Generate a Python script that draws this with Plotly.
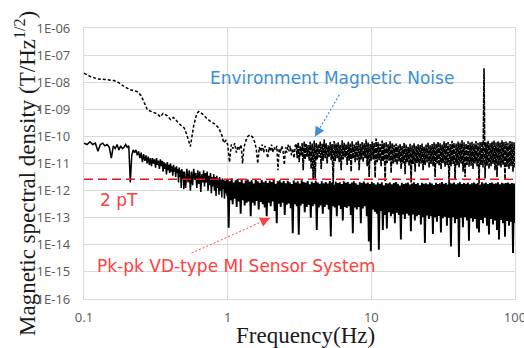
import numpy as np
import plotly.graph_objects as go

# ---------------- axis ticks ----------------
x_tick_vals = [0.1, 1, 10, 100]
x_tick_text = ["0.1", "1", "10", "100"]
y_tick_vals = [1e-16, 1e-15, 1e-14, 1e-13, 1e-12, 1e-11, 1e-10, 1e-9, 1e-8, 1e-7, 1e-6]
y_tick_text = ["1E-16", "1E-15", "1E-14", "1E-13", "1E-12", "1E-11",
               "1E-10", "1E-09", "1E-08", "1E-07", "1E-06"]

# reference level line ("2 pT")
ref_level = 2.6e-12

# ---------------- Environment magnetic noise (log10 of T/Hz^0.5) ----------------
env_low_freq = [0.100, 0.110, 0.124, 0.140, 0.162, 0.175, 0.190, 0.210, 0.235, 0.250,
                0.265, 0.276, 0.300, 0.324, 0.340, 0.355, 0.380, 0.400, 0.420, 0.445,
                0.470, 0.500, 0.520, 0.550, 0.580, 0.610, 0.630, 0.670, 0.720, 0.760,
                0.820, 0.870, 0.910, 0.940, 0.970, 1.000, 1.030, 1.060, 1.090, 1.120,
                1.150, 1.180, 1.210, 1.240, 1.270, 1.300, 1.340, 1.380, 1.420, 1.460,
                1.500, 1.540, 1.580, 1.620, 1.660, 1.700, 1.740, 1.780, 1.820, 1.860,
                1.900, 1.940, 1.980, 2.020, 2.060, 2.100, 2.150, 2.200, 2.240, 2.280,
                2.330, 2.380, 2.430, 2.480, 2.530, 2.580, 2.630, 2.680, 2.730, 2.780,
                2.840, 2.900, 2.950]
env_low_log10 = [-7.67, -7.78, -7.88, -7.90, -7.94, -8.02, -8.16, -8.28, -8.35, -8.50,
                 -8.80, -9.02, -9.10, -9.17, -9.28, -9.15, -9.24, -9.38, -9.30, -9.45,
                 -9.58, -9.70, -9.95, -10.37, -9.60, -9.15, -9.08, -9.18, -9.35, -9.45,
                 -9.55, -9.70, -9.95, -10.24, -10.15, -10.30, -10.95, -10.30, -10.45, -10.25,
                 -10.60, -10.35, -10.50, -10.30, -11.00, -10.40, -10.15, -10.00, -9.95, -9.97,
                 -10.05, -10.20, -10.45, -11.00, -10.40, -10.55, -10.30, -10.60, -10.35, -10.50,
                 -10.80, -10.40, -10.55, -10.30, -10.60, -10.40, -10.50, -10.35, -11.25, -10.45,
                 -10.60, -10.35, -10.55, -11.05, -10.40, -10.60, -10.30, -10.55, -10.35, -10.70,
                 -10.45, -10.80, -10.35]
# dense part 3-100 Hz: upper / lower excursions per column
env_hi_log10 = [-10.30, -10.22, -10.35, -10.25, -10.18, -10.28, -10.32, -10.20, -10.26, -10.15,
                -10.24, -10.30, -10.19, -10.27, -10.12, -10.25, -10.33, -10.21, -10.28, -10.17,
                -10.26, -10.22, -10.31, -10.14, -10.24, -10.29, -10.20, -10.26, -10.18, -10.30,
                -10.22, -10.16, -10.27, -10.21, -10.25, -10.12, -10.23, -10.28, -10.19, -10.24,
                -10.08, -10.22, -10.27, -10.15, -10.24, -10.20, -10.29, -10.18, -10.25, -10.31,
                -10.26, -10.34, -10.28, -10.36, -10.24, -10.30, -10.38, -10.27, -10.33, -10.25,
                -10.35, -10.29, -10.32, -10.26, -10.37, -10.30, -10.24, -10.33, -10.28, -10.22,
                -10.27, -10.20, -10.25, -10.30, -10.18, -10.24, -10.21, -10.28, -10.16, -10.23,
                -10.26, -10.19, -10.24, -10.14, -10.22, -10.27, -10.18, -10.23, -10.20, -10.26,
                -10.17, -10.24, -10.21, -10.19, -7.49, -10.22, -10.16, -10.25, -10.20, -10.15,
                -10.23, -10.18, -10.22, -10.14, -10.21, -10.19, -10.24, -10.17, -10.20, -10.22]
env_lo_log10 = [-10.80, -10.95, -10.70, -11.25, -10.85, -10.75, -10.90, -11.20, -11.60, -11.55,
                -10.85, -10.78, -11.20, -10.90, -10.80, -11.00, -10.75, -10.88, -11.78, -10.92,
                -10.80, -10.95, -11.25, -10.85, -10.78, -11.05, -10.90, -11.30, -10.82, -10.95,
                -10.88, -11.25, -10.85, -10.95, -10.80, -11.10, -11.50, -10.90, -10.85, -11.53,
                -10.95, -10.88, -11.10, -10.92, -11.65, -10.98, -10.90, -11.35, -11.00, -10.95,
                -11.05, -10.92, -11.20, -11.00, -11.40, -10.95, -11.08, -11.70, -11.02, -11.30,
                -10.98, -11.12, -11.00, -11.25, -11.05, -10.96, -11.15, -11.02, -11.10, -11.50,
                -11.00, -11.08, -11.20, -10.98, -11.12, -11.05, -11.80, -11.10, -11.02, -11.60,
                -11.06, -11.15, -11.00, -11.30, -11.50, -11.05, -11.12, -11.08, -11.20, -11.00,
                -11.10, -11.75, -11.05, -11.15, -11.55, -11.08, -11.20, -11.10, -11.02, -11.25,
                -11.50, -11.08, -11.15, -11.05, -11.60, -11.12, -11.20, -11.10, -11.30, -11.15]

# ---------------- Pk-pk VD-type MI sensor system (log10 of T/Hz^0.5) ----------------
# 0.100 .. 0.495 Hz, step 0.005 Hz
sensor_a_log10 = [-10.25, -10.30, -10.20, -10.30, -10.25, -10.55, -10.30, -10.25, -10.35, -10.30,
                  -10.40, -10.80, -10.35, -10.45, -10.30, -10.50, -10.35, -10.45, -10.40, -10.30,
                  -10.40, -10.35, -11.70, -10.70, -10.50, -10.60, -10.50, -10.70, -10.55, -10.80,
                  -10.60, -10.95, -10.65, -10.90, -10.70, -11.00, -10.75, -11.05, -10.80, -11.10,
                  -10.80, -11.00, -10.85, -11.15, -10.80, -11.05, -10.90, -11.20, -10.85, -11.10,
                  -10.90, -11.30, -10.95, -11.20, -11.00, -11.40, -10.95, -11.25, -11.05, -11.35,
                  -11.00, -11.30, -11.10, -11.45, -11.05, -11.30, -11.15, -11.50, -11.10, -11.35,
                  -11.20, -11.70, -11.15, -11.50, -11.25, -11.90, -11.20, -11.60, -11.30, -11.95]
# 0.50 .. 0.99 Hz, step 0.01 Hz
sensor_b_log10 = [-11.30, -11.90, -11.20, -11.70, -11.25, -12.00, -11.30, -11.80, -11.20, -11.60,
                  -11.35, -11.90, -11.25, -11.75, -11.30, -12.05, -11.40, -11.70, -11.25, -11.85,
                  -11.35, -11.70, -11.30, -12.00, -11.45, -11.80, -11.35, -12.10, -11.50, -11.85,
                  -11.40, -12.00, -11.50, -12.20, -11.45, -11.90, -11.55, -12.15, -11.50, -12.00,
                  -11.60, -12.25, -11.55, -11.95, -11.60, -12.30, -11.65, -12.10, -11.60, -12.20]
# dense part 1-100 Hz: upper / lower excursions per column
sensor_hi_log10 = [-11.58, -11.66, -11.55, -11.70, -11.62, -11.57, -11.68, -11.60, -11.73, -11.63,
                   -11.59, -11.67, -11.62, -11.74, -11.60, -11.66, -11.71, -11.61, -11.69, -11.64,
                   -11.72, -11.63, -11.68, -11.60, -11.75, -11.66, -11.62, -11.70, -11.65, -11.73,
                   -11.64, -11.69, -11.76, -11.63, -11.70, -11.66, -11.74, -11.62, -11.68, -11.71,
                   -11.65, -11.77, -11.67, -11.72, -11.64, -11.70, -11.75, -11.66, -11.73, -11.68,
                   -11.74, -11.65, -11.70, -11.78, -11.67, -11.72, -11.69, -11.76, -11.66, -11.71,
                   -11.68, -11.75, -11.70, -11.66, -11.73, -11.79, -11.69, -11.72, -11.67, -11.74,
                   -11.70, -11.76, -11.68, -11.73, -11.78, -11.70, -11.75, -11.69, -11.80, -11.72,
                   -11.74, -11.70, -11.77, -11.72, -11.68, -11.75, -11.81, -11.71, -11.76, -11.73,
                   -11.70, -11.78, -11.74, -11.69, -11.76, -11.72, -11.80, -11.71, -11.75, -11.73,
                   -11.77, -11.70, -11.74, -11.79, -11.71, -11.76, -11.73, -11.68, -11.75, -11.72,
                   -11.78, -11.71, -11.74, -11.70, -11.77, -11.73, -11.69, -11.76, -11.72, -11.75,
                   -11.71, -11.77, -11.73, -11.70, -11.75, -11.72, -11.78, -11.69, -11.74, -11.71,
                   -11.76, -11.72, -11.70, -11.75, -11.73, -11.69, -11.77, -11.71, -11.74, -11.72,
                   -11.70, -11.75, -11.72, -11.74]
sensor_lo_log10 = [-13.37, -12.35, -12.50, -12.30, -12.60, -12.40, -12.85, -12.35, -12.55, -12.45,
                   -12.40, -12.95, -12.45, -12.55, -12.38, -12.70, -12.42, -12.50, -12.62, -12.95,
                   -12.45, -12.58, -12.40, -12.75, -13.20, -12.48, -12.60, -12.45, -12.90, -12.52,
                   -12.47, -12.65, -13.57, -12.50, -12.58, -13.63, -12.55, -12.48, -12.80, -12.60,
                   -12.52, -13.00, -12.58, -12.50, -13.45, -12.62, -12.55, -12.85, -12.60, -12.52,
                   -12.70, -13.69, -12.58, -12.62, -12.95, -12.55, -12.68, -13.10, -12.60, -12.64,
                   -12.58, -12.90, -13.57, -12.62, -12.70, -12.60, -13.20, -12.66, -12.58, -12.95,
                   -13.88, -14.24, -12.70, -12.78, -12.85, -14.18, -12.75, -13.45, -12.90, -13.40,
                   -12.80, -12.95, -12.85, -13.20, -12.82, -12.90, -13.80, -12.88, -13.05, -12.85,
                   -12.92, -13.50, -12.88, -13.10, -12.95, -12.90, -13.25, -12.98, -13.93, -12.92,
                   -13.05, -12.95, -13.60, -12.98, -13.15, -12.94, -13.55, -13.02, -12.96, -13.30,
                   -13.00, -14.06, -12.98, -13.20, -13.05, -14.45, -13.00, -13.35, -12.98, -13.10,
                   -13.85, -13.02, -13.15, -13.05, -13.40, -13.55, -13.08, -13.20, -13.00, -13.30,
                   -13.62, -13.05, -13.25, -13.10, -13.45, -13.80, -13.08, -13.20, -13.70, -13.12,
                   -13.30, -13.15, -14.30, -13.20]


def interleave(hi, lo):
    out = []
    for a, b in zip(hi, lo):
        out.extend([a, b])
    return out


# frequency grids
env_dense_freq = np.geomspace(3.0, 100.0, 2 * len(env_hi_log10))
env_low_y = 10.0 ** np.array(env_low_log10)
env_dense_y = 10.0 ** np.array(interleave(env_hi_log10, env_lo_log10))

sensor_a_freq = np.arange(100, 500, 5) / 1000.0
sensor_b_freq = np.arange(50, 100, 1) / 100.0
sensor_dense_freq = np.geomspace(1.0, 100.0, 2 * len(sensor_hi_log10))
sensor_low_x = list(sensor_a_freq) + list(sensor_b_freq)
sensor_low_y = 10.0 ** np.array(sensor_a_log10 + sensor_b_log10)
sensor_dense_y = 10.0 ** np.array(interleave(sensor_hi_log10, sensor_lo_log10))

BLUE = "#3b8fd4"
RED_TXT = "#ff4040"
RED_LINE = "#e8151b"
GRID = "#d9d9d9"

fig = go.Figure()
# environment noise: low-frequency part (dashed) + dense part
fig.add_trace(go.Scatter(x=list(env_low_freq) + [env_dense_freq[0]],
                         y=list(env_low_y) + [env_dense_y[0]], mode="lines",
                         line=dict(color="#000000", width=1.5, dash="3px,2px", simplify=False),
                         hoverinfo="skip", showlegend=False))
fig.add_trace(go.Scatter(x=env_dense_freq, y=env_dense_y, mode="lines",
                         line=dict(color="#000000", width=1.6, dash="5px,1px", simplify=False),
                         hoverinfo="skip", showlegend=False))
# sensor: low-frequency part + dense part
fig.add_trace(go.Scatter(x=sensor_low_x + [sensor_dense_freq[0]],
                         y=list(sensor_low_y) + [sensor_dense_y[0]], mode="lines",
                         line=dict(color="#000000", width=1.5, simplify=False),
                         hoverinfo="skip", showlegend=False))
fig.add_trace(go.Scatter(x=sensor_dense_freq, y=sensor_dense_y, mode="lines",
                         line=dict(color="#000000", width=1.9, simplify=False),
                         hoverinfo="skip", showlegend=False))
fig.add_trace(go.Scatter(x=[0.1, 100], y=[ref_level, ref_level], mode="lines",
                         line=dict(color=RED_LINE, width=1.5, dash="9px,5px"),
                         hoverinfo="skip", showlegend=False))

# dotted arrow shafts (data coordinates)
blue_tail, blue_head = (5.98, 3.4e-9), (4.05, 9.8e-11)
red_tail, red_head = (0.5616, 4.95e-15), (1.97, 9.7e-14)
fig.add_trace(go.Scatter(x=[blue_tail[0], blue_head[0]], y=[blue_tail[1], blue_head[1]],
                         mode="lines", line=dict(color=BLUE, width=1.2, dash="2px,2px"),
                         hoverinfo="skip", showlegend=False))
fig.add_trace(go.Scatter(x=[red_tail[0], red_head[0]], y=[red_tail[1], red_head[1]],
                         mode="lines", line=dict(color=RED_TXT, width=1.0, dash="2px,2px"),
                         hoverinfo="skip", showlegend=False))

ann_font = dict(family="DejaVu Sans", size=17)
annotations = [
    dict(x=np.log10(blue_head[0]), y=np.log10(blue_head[1]), xref="x", yref="y",
         ax=3.5, ay=-6.0, showarrow=True, arrowhead=2, arrowsize=1.3, arrowwidth=1.5,
         arrowcolor=BLUE, text="", standoff=0),
    dict(x=np.log10(red_head[0]), y=np.log10(red_head[1]), xref="x", yref="y",
         ax=-6.4, ay=2.9, showarrow=True, arrowhead=2, arrowsize=1.3, arrowwidth=1.5,
         arrowcolor=RED_TXT, text="", standoff=0),
    dict(x=0.728, y=-7.843, xref="x", yref="y", text="Environment Magnetic Noise",
         showarrow=False, font=dict(color=BLUE, **ann_font), xanchor="center", yanchor="middle"),
    dict(x=-0.9026, y=-12.34, xref="x", yref="y", text="2 pT",
         showarrow=False, font=dict(color=RED_TXT, **ann_font), xanchor="left", yanchor="middle"),
    dict(x=-0.9235, y=-14.77, xref="x", yref="y", text="Pk-pk VD-type MI Sensor System",
         showarrow=False, font=dict(color=RED_TXT, **ann_font), xanchor="left", yanchor="middle"),
    # axis titles
    dict(x=(25 - 84) / 431, y=(299 - 174) / 271, xref="paper", yref="paper",
         text="Magnetic spectral density (T/Hz<sup>1/2</sup>)", textangle=-90,
         showarrow=False, font=dict(family="Liberation Serif", size=23, color="#1a1a1a"),
         xanchor="center", yanchor="middle"),
    dict(x=(305 - 84) / 431, y=(299 - 335) / 271, xref="paper", yref="paper",
         text="Frequency(Hz)", showarrow=False,
         font=dict(family="Liberation Serif", size=23, color="#1a1a1a"),
         xanchor="center", yanchor="middle"),
]

tick_font = dict(family="Open Sans", size=13, color="#595959")
fig.update_layout(
    width=524, height=348, autosize=False,
    margin=dict(l=84, r=9, t=28, b=49, autoexpand=False),
    paper_bgcolor="white", plot_bgcolor="white",
    annotations=annotations,
    xaxis=dict(type="log", range=[-1, 2], tickvals=x_tick_vals, ticktext=x_tick_text,
               showgrid=True, gridcolor=GRID, gridwidth=1.2, zeroline=False,
               showline=True, linecolor=GRID, linewidth=1.2, mirror=True,
               ticks="", tickfont=tick_font, ticklabelstandoff=6,
               ticklabeloverflow="allow", automargin=False),
    yaxis=dict(type="log", range=[-16, -6], tickvals=y_tick_vals, ticktext=y_tick_text,
               showgrid=True, gridcolor=GRID, gridwidth=1.2, zeroline=False,
               showline=True, linecolor=GRID, linewidth=1.2, mirror=True,
               ticks="", tickfont=tick_font, ticklabelstandoff=10, automargin=False),
)

fig.write_html("out.html")
